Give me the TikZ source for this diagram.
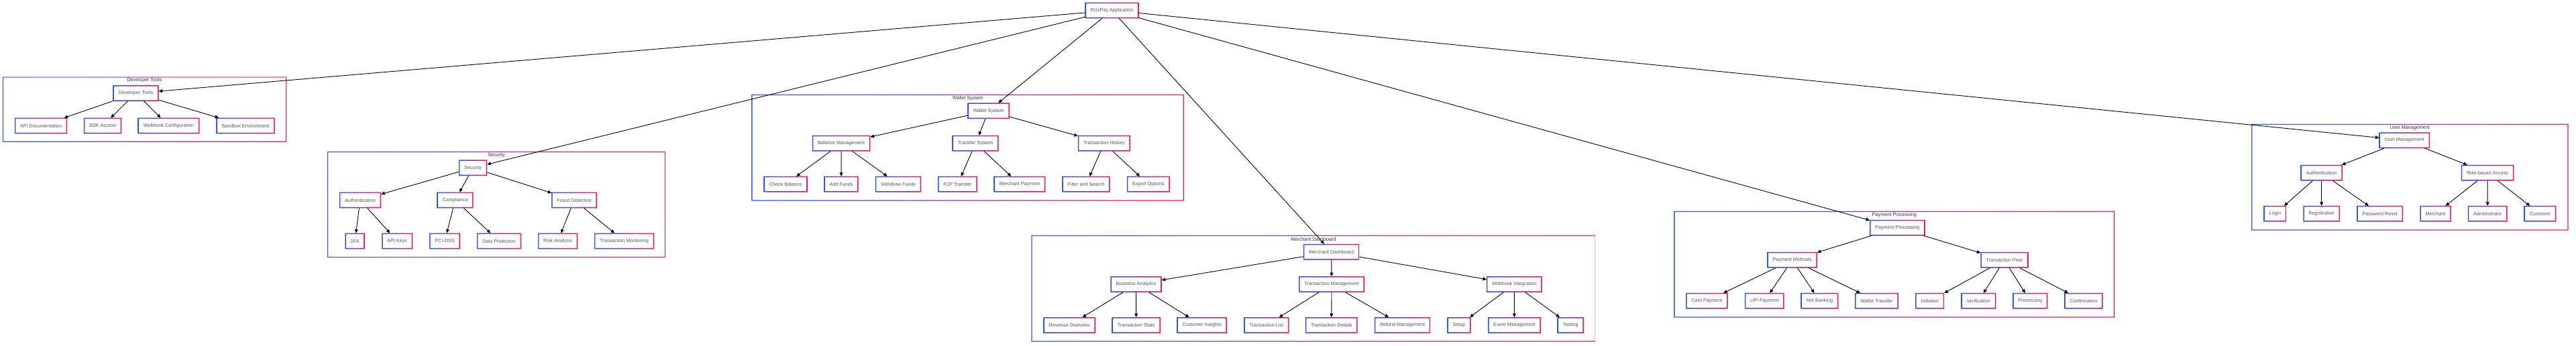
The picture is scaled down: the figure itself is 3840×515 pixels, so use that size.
\documentclass[tikz,border=0pt]{standalone}
\usepackage{fontspec}
\setmainfont{Liberation Sans}
\usetikzlibrary{arrows.meta,shadows}
\definecolor{gblue}{HTML}{2F55F5}
\definecolor{gred}{HTML}{F5185A}
\definecolor{txtnode}{HTML}{555555}
\definecolor{txtclus}{HTML}{333333}
\tikzset{
  box/.style={rectangle, fill=white, inner xsep=8pt, inner ysep=0pt,
    minimum height=23.3pt, font={\fontsize{7.2}{8.5}\selectfont}, text=txtnode,
    general shadow={fill=black, opacity=0.10, shadow xshift=0.9pt, shadow yshift=-0.9pt}},
  cluster/.style={rectangle, inner sep=0pt},
  clabel/.style={inner sep=0pt, font={\fontsize{7.2}{8.5}\selectfont}, text=txtclus},
  edge/.style={draw=black, line width=0.9pt, -{Triangle[length=5.5pt,width=5pt]}},
}
\begin{document}
\begin{tikzpicture}[x=1pt,y=-1pt]
\useasboundingbox (0,0) rectangle (3840,515);
\fill[white] (0,0) rectangle (3840,515);

% clusters
\node[cluster, minimum width=423pt, minimum height=97pt] (cDev) at (215.5,163.2) {};
\node[cluster, minimum width=504pt, minimum height=158pt] (cSec) at (740,305) {};
\node[cluster, minimum width=644pt, minimum height=158.3pt] (cWal) at (1442.7,220.2) {};
\node[cluster, minimum width=841pt, minimum height=158.3pt] (cMer) at (1958,430.2) {};
\node[cluster, minimum width=656.6pt, minimum height=158.3pt] (cPay) at (2823.9,394.2) {};
\node[cluster, minimum width=472pt, minimum height=158.3pt] (cUsr) at (3592.3,264.2) {};
\foreach \c in {cDev,cSec,cWal,cMer,cPay,cUsr}{
  \shade[left color=gblue, right color=gred, even odd rule]
    (\c.north west) rectangle (\c.south east)
    ([shift={(1.2pt,-1.2pt)}]\c.north west) rectangle ([shift={(-1.2pt,1.2pt)}]\c.south east);
}
\node[clabel] (lDev) at ([yshift=-5.6pt]cDev.north) {Developer Tools};
\node[clabel] (lSec) at ([yshift=-5.6pt]cSec.north) {Security};
\node[clabel] (lWal) at ([yshift=-5.6pt]cWal.north) {Wallet System};
\node[clabel] (lMer) at ([yshift=-5.6pt]cMer.north) {Merchant Dashboard};
\node[clabel] (lPay) at ([yshift=-5.6pt]cPay.north) {Payment Processing};
\node[clabel] (lUsr) at ([yshift=-5.6pt]cUsr.north) {User Management};

% nodes
\node[box] (root) at (1657.5,15.5) {RizzPay Application};

\node[box] (dev) at (202.5,139) {Developer Tools};
\node[box] (dAPI) at (61,187.5) {API Documentation};
\node[box] (dSDK) at (153,187.5) {SDK Access};
\node[box] (dWeb) at (251.5,187.5) {Webhook Configuration};
\node[box] (dSand) at (366,187.5) {Sandbox Environment};

\node[box] (sec) at (705,250.3) {Security};
\node[box] (sAuth) at (537,298.5) {Authentication};
\node[box] (sComp) at (678.5,298.5) {Compliance};
\node[box] (sFraud) at (856,298.5) {Fraud Detection};
\node[box] (s2fa) at (529,359.5) {2FA};
\node[box] (sKeys) at (592,359.5) {API Keys};
\node[box] (sPci) at (663,359.5) {PCI-DSS};
\node[box] (sData) at (744,359.5) {Data Protection};
\node[box] (sRisk) at (831.5,359.5) {Risk Analysis};
\node[box] (sMon) at (930.5,359.5) {Transaction Monitoring};

\node[box] (wal) at (1473.7,165.3) {Wallet System};
\node[box] (wBal) at (1254.2,213.7) {Balance Management};
\node[box] (wTr) at (1454.2,213.7) {Transfer System};
\node[box] (wHist) at (1645.9,213.7) {Transaction History};
\node[box] (wCheck) at (1171.1,274.8) {Check Balance};
\node[box] (wAdd) at (1254,274.8) {Add Funds};
\node[box] (wWd) at (1339,274.8) {Withdraw Funds};
\node[box] (wP2P) at (1427.5,274.8) {P2P Transfer};
\node[box] (wMP) at (1520,274.8) {Merchant Payment};
\node[box] (wFil) at (1619,274.8) {Filter and Search};
\node[box] (wExp) at (1711.8,274.8) {Export Options};

\node[box] (mer) at (1984.7,375.7) {Merchant Dashboard};
\node[box] (mBA) at (1693.5,424) {Business Analytics};
\node[box] (mTM) at (1985,424) {Transaction Management};
\node[box] (mWI) at (2257.3,424) {Webhook Integration};
\node[box] (mRev) at (1594.2,485) {Revenue Overview};
\node[box] (mStats) at (1693.7,485) {Transaction Stats};
\node[box] (mIns) at (1791.6,485) {Customer Insights};
\node[box] (mList) at (1887.9,485) {Transaction List};
\node[box] (mDet) at (1984.8,485) {Transaction Details};
\node[box] (mRef) at (2090.6,485) {Refund Management};
\node[box] (mSetup) at (2175,485) {Setup};
\node[box] (mEv) at (2257.4,485) {Event Management};
\node[box] (mTest) at (2341.3,485) {Testing};

\node[box] (pay) at (2828.3,339.7) {Payment Processing};
\node[box] (pPM) at (2671.5,387.8) {Payment Methods};
\node[box] (pTF) at (2987.8,387.8) {Transaction Flow};
\node[box] (pCard) at (2544.4,448.8) {Card Payment};
\node[box] (pUPI) at (2630.3,448.8) {UPI Payment};
\node[box] (pNet) at (2712.5,448.8) {Net Banking};
\node[box] (pWT) at (2797.4,448.8) {Wallet Transfer};
\node[box] (pIni) at (2876.8,448.8) {Initiation};
\node[box] (pVer) at (2949.4,448.8) {Verification};
\node[box] (pProc) at (3026.4,448.8) {Processing};
\node[box] (pConf) at (3106,448.8) {Confirmation};

\node[box] (usr) at (3584.3,209.2) {User Management};
\node[box] (uAuth) at (3460.7,257.8) {Authentication};
\node[box] (uRole) at (3708,257.8) {Role-based Access};
\node[box] (uLogin) at (3391.5,318.8) {Login};
\node[box] (uReg) at (3460.7,318.8) {Registration};
\node[box] (uPw) at (3547.7,318.8) {Password Reset};
\node[box] (uMer) at (3630.5,318.8) {Merchant};
\node[box] (uAdm) at (3708.2,318.8) {Administrator};
\node[box] (uCus) at (3786.5,318.8) {Customer};

% node frames
\foreach \n in {root,dev,dAPI,dSDK,dWeb,dSand,sec,sAuth,sComp,sFraud,s2fa,sKeys,sPci,sData,sRisk,sMon,
  wal,wBal,wTr,wHist,wCheck,wAdd,wWd,wP2P,wMP,wFil,wExp,
  mer,mBA,mTM,mWI,mRev,mStats,mIns,mList,mDet,mRef,mSetup,mEv,mTest,
  pay,pPM,pTF,pCard,pUPI,pNet,pWT,pIni,pVer,pProc,pConf,
  usr,uAuth,uRole,uLogin,uReg,uPw,uMer,uAdm,uCus}{
  \shade[left color=gblue, right color=gred, even odd rule]
    (\n.north west) rectangle (\n.south east)
    ([shift={(1.5pt,-1.5pt)}]\n.north west) rectangle ([shift={(-1.5pt,1.5pt)}]\n.south east);
}

% edges
\foreach \a/\b in {root/dev,root/sec,root/wal,root/mer,root/pay,root/usr,
  dev/dAPI,dev/dSDK,dev/dWeb,dev/dSand,
  sec/sAuth,sec/sComp,sec/sFraud,sAuth/s2fa,sAuth/sKeys,sComp/sPci,sComp/sData,sFraud/sRisk,sFraud/sMon,
  wal/wBal,wal/wTr,wal/wHist,wBal/wCheck,wBal/wAdd,wBal/wWd,wTr/wP2P,wTr/wMP,wHist/wFil,wHist/wExp,
  mer/mBA,mer/mTM,mer/mWI,mBA/mRev,mBA/mStats,mBA/mIns,mTM/mList,mTM/mDet,mTM/mRef,mWI/mSetup,mWI/mEv,mWI/mTest,
  pay/pPM,pay/pTF,pPM/pCard,pPM/pUPI,pPM/pNet,pPM/pWT,pTF/pIni,pTF/pVer,pTF/pProc,pTF/pConf,
  usr/uAuth,usr/uRole,uAuth/uLogin,uAuth/uReg,uAuth/uPw,uRole/uMer,uRole/uAdm,uRole/uCus}{
  \draw[edge] (\a) -- (\b);
}
\end{tikzpicture}
\end{document}
